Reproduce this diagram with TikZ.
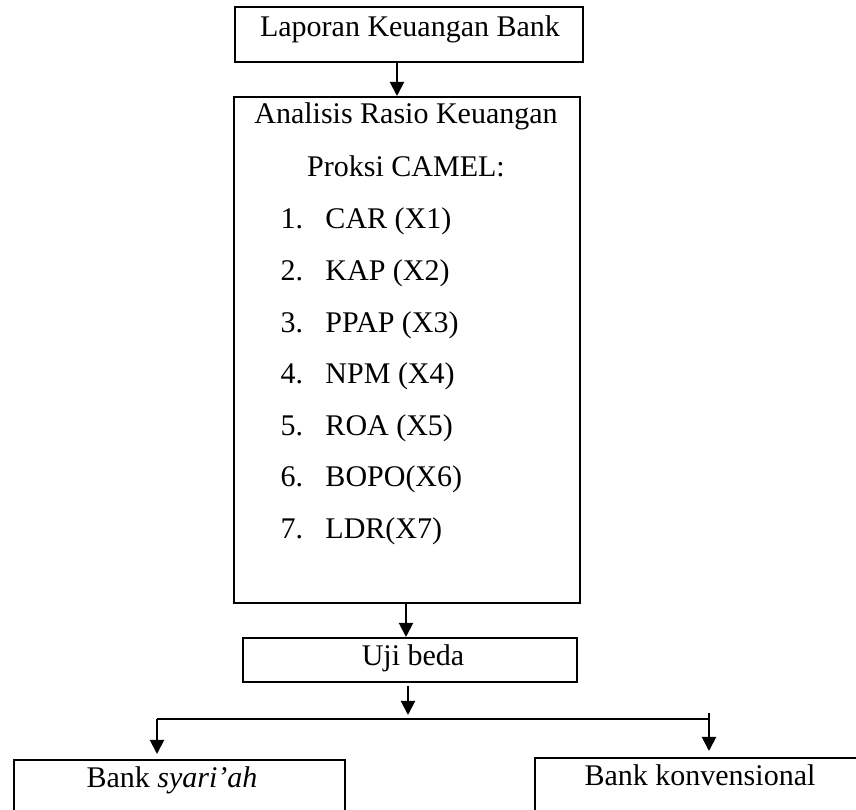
\documentclass[tikz,border=0pt]{standalone}
\usepackage{fontspec}
\setmainfont{Liberation Serif}
\usetikzlibrary{arrows.meta,positioning}
\tikzset{
  kotak/.style={draw,line width=0.8pt,inner sep=0pt},
  teks/.style={anchor=base,inner sep=0pt},
  butir/.style={anchor=base west,inner sep=0pt},
  panah/.style={-{Triangle[length=5.6pt,width=5.6pt]},line width=0.8pt},
  garis/.style={line width=0.8pt},
}

\begin{document}
\begin{tikzpicture}[x=0.4pt,y=-0.4pt,font=\fontsize{12}{14}\selectfont]
  \clip (0,0) rectangle (856,810);
  % kotak-kotak
  \node[kotak,minimum width=139.2pt,minimum height=22pt] (lap) at (409,34.5) {};
  \node[kotak,minimum width=138.4pt,minimum height=202.4pt] (ana) at (407,350) {};
  \node[kotak,minimum width=133.6pt,minimum height=17.6pt] (uji) at (410,660) {};
  \node[kotak,minimum width=132.4pt,minimum height=32pt] (syr) at (179.5,800) {};
  \node[kotak,minimum width=146pt,minimum height=32.8pt] (kon) at (717.5,799) {};
  % isi kotak
  \node[teks] (tlap) at (410,37) {Laporan Keuangan Bank};
  \node[teks] (tana) at (406,124) {Analisis Rasio Keuangan};
  \node[teks] (tpro) at (406,177) {Proksi CAMEL:};
  \foreach \t [count=\i] in {CAR (X1),KAP (X2),PPAP (X3),NPM (X4),ROA (X5),BOPO(X6),LDR(X7)} {
    \node[butir] (no\i) at (280,{229+51.6*(\i-1)}) {\i.};
    \node[butir] (it\i) at (325,{229+51.6*(\i-1)}) {\t};
  }
  \node[teks] (tuji) at (413,666) {Uji beda};
  \node[teks] (tsyr) at (172,788) {Bank \textit{syari’ah}};
  \node[teks] (tkon) at (700,786) {Bank konvensional};
  % panah
  \coordinate (cab) at (408,719);
  \coordinate (kiri) at (157,719);
  \coordinate (kanan) at (709,719);
  \draw[panah] (lap.south -| 397,0) -- (ana.north -| 397,0);
  \draw[panah] (ana.south -| 406,0) -- (uji.north -| 406,0);
  \draw[panah] ([yshift=-1.2pt]uji.south -| cab) -- ([yshift=1.6pt]cab);
  \draw[garis] (kiri) -- (kanan);
  \draw[panah] (kiri) -- ([yshift=2pt]syr.north -| kiri);
  \draw[panah] ([yshift=2.4pt]kanan) -- ([yshift=2.4pt]kon.north -| kanan);
\end{tikzpicture}
\end{document}
